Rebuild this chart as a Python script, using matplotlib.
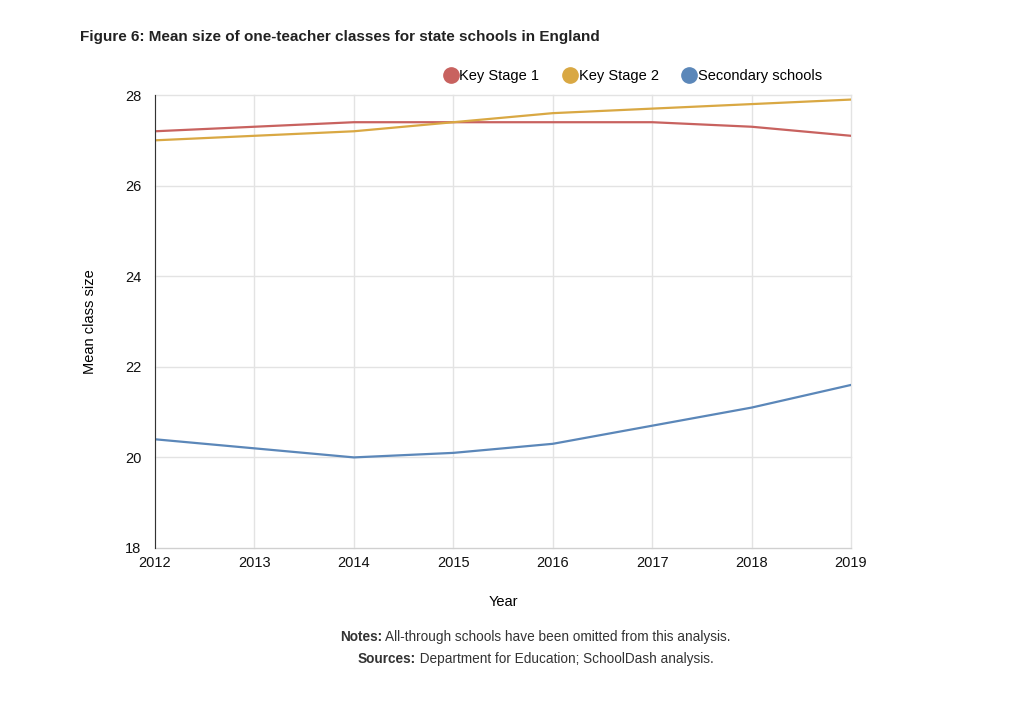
import matplotlib
matplotlib.use('Agg')
import matplotlib.pyplot as plt
from matplotlib.lines import Line2D

plt.rcParams['font.family'] = ['Liberation Sans', 'DejaVu Sans']

years = [2012, 2013, 2014, 2015, 2016, 2017, 2018, 2019]
ks1 = [27.2, 27.3, 27.4, 27.4, 27.4, 27.4, 27.3, 27.1]
ks2 = [27.0, 27.1, 27.2, 27.4, 27.6, 27.7, 27.8, 27.9]
secondary = [20.4, 20.2, 20.0, 20.1, 20.3, 20.7, 21.1, 21.6]

names = ['Key Stage 1', 'Key Stage 2', 'Secondary schools']
colors = ['#c8625f', '#d9a843', '#5b87b9']

fig = plt.figure(figsize=(10.24, 7.05), dpi=100)
ax = fig.add_axes([0.1514, 0.2227, 0.6797, 0.6425])

for vals, c in zip([ks1, ks2, secondary], colors):
    ax.plot(years, vals, color=c, lw=1.6, zorder=3)

ax.set_xlim(2012, 2019)
ax.set_ylim(18, 28)
ax.set_xticks(years)
ax.set_yticks([18, 20, 22, 24, 26, 28])
ax.grid(True, color='#e3e3e3', lw=1)
ax.set_axisbelow(True)
for gl in ax.get_xgridlines() + ax.get_ygridlines():
    gl.set_clip_on(False)
for s in ['top', 'right']:
    ax.spines[s].set_visible(False)
ax.spines['left'].set_color('#333333')
ax.spines['left'].set_zorder(4)
ax.spines['bottom'].set_color('#d0d0d0')
ax.tick_params(length=0, labelsize=10.5, colors='#111111', pad=6)
ax.tick_params(axis='y', pad=10)
ax.set_xlabel('Year', fontsize=10.5, labelpad=18)
ax.set_ylabel('Mean class size', fontsize=10.5)
ax.yaxis.set_label_coords(-0.083, 0.5)

handles = [Line2D([], [], marker='o', ls='', ms=11, color=c) for c in colors]
fig.legend(handles, names, loc='center', bbox_to_anchor=(0.618, 0.892), ncol=3,
           frameon=False, fontsize=10.5, handletextpad=0.1, columnspacing=1.6,
           handlelength=1.0)

fig.text(0.078, 0.9475, 'Figure 6: Mean size of one-teacher classes for state schools in England',
         fontsize=11, fontweight='bold', color='#222222', va='center')

# notes: bold label + regular text, centred as one line
fig.canvas.draw()
r = fig.canvas.get_renderer()
for y, lab, txt in [(0.096, 'Notes:', ' All-through schools have been omitted from this analysis.'),
                    (0.065, 'Sources:', ' Department for Education; SchoolDash analysis.')]:
    t1 = fig.text(0, y, lab, fontsize=9.8, fontweight='bold', color='#333333', va='center')
    t2 = fig.text(0, y, txt, fontsize=9.8, color='#333333', va='center')
    w1 = t1.get_window_extent(r).width / fig.bbox.width
    w2 = t2.get_window_extent(r).width / fig.bbox.width
    x0 = 0.523 - (w1 + w2) / 2
    t1.set_x(x0)
    t2.set_x(x0 + w1)

fig.savefig('out.png', dpi=100)
